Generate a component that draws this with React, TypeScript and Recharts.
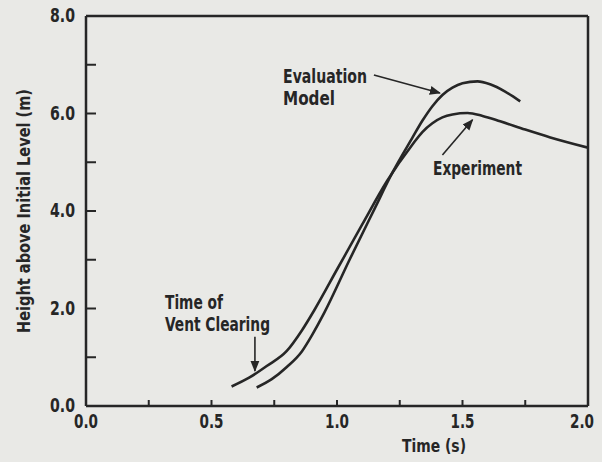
import { LineChart, Line, XAxis, YAxis, ReferenceLine } from "recharts";

// rise of the pool surface after vent clearing
const expTime = [0.58, 0.65, 0.72, 0.8, 0.86, 0.91, 1.0, 1.1, 1.2, 1.3, 1.34, 1.38, 1.42, 1.46, 1.52, 1.58, 1.65, 1.75, 1.85, 2.0];
const expHeight = [0.4, 0.58, 0.82, 1.13, 1.55, 1.97, 2.8, 3.72, 4.62, 5.36, 5.62, 5.8, 5.92, 5.98, 6.01, 5.95, 5.84, 5.67, 5.51, 5.3];

const evalTime = [0.68, 0.74, 0.8, 0.86, 0.9, 0.95, 1.05, 1.15, 1.22, 1.3, 1.34, 1.38, 1.42, 1.46, 1.5, 1.56, 1.61, 1.67, 1.73];
const evalHeight = [0.38, 0.55, 0.8, 1.12, 1.45, 1.92, 3.0, 4.05, 4.78, 5.5, 5.85, 6.15, 6.38, 6.53, 6.62, 6.66, 6.6, 6.45, 6.25];

const xTicks = [0, 0.25, 0.5, 0.75, 1.0, 1.25, 1.5, 1.75, 2.0];
const topTicks = [0.5, 1.0, 1.5];
const yTicks = [0, 1, 2, 3, 4, 5, 6, 7, 8];

const expData = expTime.map((t, i) => ({ t, h: expHeight[i] }));
const evalData = evalTime.map((t, i) => ({ t, h: evalHeight[i] }));

const INK = "#262626";
const FONT = "'Liberation Sans Narrow', 'DejaVu Sans Condensed', 'Arial Narrow', sans-serif";

const BottomTick = ({ x, y, payload }: any) => {
  const v = payload.value;
  const major = Math.abs(v * 2 - Math.round(v * 2)) < 1e-6;
  const last = v >= 2;
  return (
    <g>
      {v > 0 && v < 2 && <line x1={x} x2={x} y1={y - 22} y2={y - 28} stroke={INK} strokeWidth={2} />}
      {major && (
        <text
          x={last ? x + 6 : x}
          y={y}
          textAnchor={last ? "end" : "middle"}
          fill={INK}
          fontFamily={FONT}
          fontWeight="bold"
          fontSize={19}
          textLength={24}
          lengthAdjust="spacingAndGlyphs"
        >
          {v.toFixed(1)}
        </text>
      )}
    </g>
  );
};

const TopTick = ({ x, y }: any) => <line x1={x} x2={x} y1={y} y2={y + 8} stroke={INK} strokeWidth={2} />;

const LeftTick = ({ x, y, payload }: any) => {
  const v = payload.value;
  return (
    <g>
      {v > 0 && v < 8 && <line x1={x + 11} x2={x + 21} y1={y} y2={y} stroke={INK} strokeWidth={2} />}
      {v % 2 === 0 && (
        <text x={x} y={y} dy={6} textAnchor="end" fill={INK} fontFamily={FONT} fontWeight="bold" fontSize={19} textLength={25} lengthAdjust="spacingAndGlyphs">
          {v.toFixed(1)}
        </text>
      )}
    </g>
  );
};

const RightTick = ({ x, y, payload }: any) => {
  const v = payload.value;
  if (v <= 0 || v >= 8) return <g />;
  return <line x1={x} x2={x - 9} y1={y} y2={y} stroke={INK} strokeWidth={2} />;
};

const textStyle = {
  fill: INK,
  fontFamily: FONT,
  fontWeight: "bold" as const,
  fontSize: 19,
  lengthAdjust: "spacingAndGlyphs" as const,
};

export default function App() {
  return (
    <div style={{ position: "absolute", left: 0, top: 0, width: 602, height: 462, background: "#e9e9e6" }}>
      <LineChart width={602} height={462} margin={{ top: 0, right: 0, bottom: 0, left: 0 }}>
        <defs>
          <marker id="arrow" viewBox="0 0 10 10" refX="9" refY="5" markerWidth="7" markerHeight="7" orient="auto">
            <path d="M0,1 L10,5 L0,9 z" fill={INK} />
          </marker>
        </defs>
        <XAxis
          dataKey="t"
          type="number"
          domain={[0, 2]}
          ticks={xTicks}
          height={56}
          tickSize={0}
          tickMargin={22}
          tick={<BottomTick />}
          axisLine={{ stroke: INK, strokeWidth: 2.5 }}
          allowDataOverflow
        />
        <XAxis
          xAxisId="top"
          orientation="top"
          dataKey="t"
          type="number"
          domain={[0, 2]}
          ticks={topTicks}
          height={16}
          tickSize={0}
          tickMargin={0}
          tick={<TopTick />}
          axisLine={{ stroke: INK, strokeWidth: 2.5 }}
        />
        <YAxis
          type="number"
          domain={[0, 8]}
          ticks={yTicks}
          width={86}
          tickSize={0}
          tickMargin={11}
          tick={<LeftTick />}
          axisLine={{ stroke: INK, strokeWidth: 2.5 }}
        />
        <YAxis
          yAxisId="r"
          orientation="right"
          type="number"
          domain={[0, 8]}
          ticks={yTicks}
          width={14}
          tickSize={0}
          tickMargin={0}
          tick={<RightTick />}
          axisLine={{ stroke: INK, strokeWidth: 2.5 }}
        />

        <Line data={expData} dataKey="h" type="monotone" stroke={INK} strokeWidth={2.6} dot={false} isAnimationActive={false} />
        <Line data={evalData} dataKey="h" type="monotone" stroke={INK} strokeWidth={2.6} dot={false} isAnimationActive={false} />

        <ReferenceLine segment={[{ x: 1.147, y: 6.79 }, { x: 1.41, y: 6.42 }]} stroke={INK} strokeWidth={1.6} markerEnd="url(#arrow)" />
        <ReferenceLine segment={[{ x: 1.42, y: 5.15 }, { x: 1.54, y: 5.87 }]} stroke={INK} strokeWidth={1.6} markerEnd="url(#arrow)" />
        <ReferenceLine segment={[{ x: 0.673, y: 1.42 }, { x: 0.673, y: 0.72 }]} stroke={INK} strokeWidth={1.6} markerEnd="url(#arrow)" />

        <text x={283} y={83} textLength={84} {...textStyle}>Evaluation</text>
        <text x={283} y={105} textLength={52} {...textStyle}>Model</text>
        <text x={433} y={175} textLength={89} {...textStyle}>Experiment</text>
        <text x={165} y={309} textLength={58} {...textStyle}>Time of</text>
        <text x={165} y={331} textLength={105} {...textStyle}>Vent Clearing</text>
        <text x={402} y={452} textLength={64} {...textStyle} fontSize={18}>Time (s)</text>
        <text
          x={0}
          y={0}
          transform="translate(30,211) rotate(-90)"
          textAnchor="middle"
          textLength={244}
          {...textStyle}
          fontSize={17}
        >
          Height above Initial Level (m)
        </text>
      </LineChart>
    </div>
  );
}
